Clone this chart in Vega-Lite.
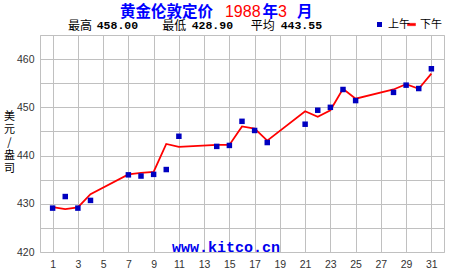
{
  "$schema": "https://vega.github.io/schema/vega-lite/v6.json",
  "width": 404,
  "height": 217,
  "autosize": {"type": "none"},
  "padding": {"left": 40, "top": 35, "right": 6, "bottom": 23},
  "background": "white",
  "config": {
    "view": {"stroke": "#c0c0c0", "strokeWidth": 1},
    "axis": {
      "domain": false,
      "ticks": false,
      "grid": true,
      "gridColor": "#c0c0c0",
      "gridWidth": 1,
      "gridOpacity": 1,
      "labelFont": "Liberation Sans",
      "labelFontSize": 10.5,
      "labelColor": "#333333",
      "labelOverlap": false
    },
    "legend": {
      "orient": "none",
      "direction": "horizontal",
      "title": null,
      "padding": 0,
      "labelFont": "Noto Sans CJK SC",
      "labelFontSize": 11,
      "labelColor": "#000000",
      "labelOffset": 3
    },
    "text": {"font": "Noto Sans CJK SC"}
  },
  "resolve": {"scale": {"fill": "independent", "stroke": "independent"}, "legend": {"fill": "independent", "stroke": "independent"}},
  "datasets": {
    "prices": [
      {"day": 1, "session": "上午", "price": 429.1},
      {"day": 2, "session": "上午", "price": 431.5},
      {"day": 3, "session": "上午", "price": 429.1},
      {"day": 4, "session": "上午", "price": 430.7},
      {"day": 7, "session": "上午", "price": 436.0},
      {"day": 8, "session": "上午", "price": 435.75},
      {"day": 9, "session": "上午", "price": 436.1},
      {"day": 10, "session": "上午", "price": 437.1},
      {"day": 11, "session": "上午", "price": 444.0},
      {"day": 14, "session": "上午", "price": 441.9},
      {"day": 15, "session": "上午", "price": 442.1},
      {"day": 16, "session": "上午", "price": 447.1},
      {"day": 17, "session": "上午", "price": 445.2},
      {"day": 18, "session": "上午", "price": 442.7},
      {"day": 21, "session": "上午", "price": 446.5},
      {"day": 22, "session": "上午", "price": 449.4},
      {"day": 23, "session": "上午", "price": 450.0},
      {"day": 24, "session": "上午", "price": 453.7},
      {"day": 25, "session": "上午", "price": 451.4},
      {"day": 28, "session": "上午", "price": 453.1},
      {"day": 29, "session": "上午", "price": 454.6},
      {"day": 30, "session": "上午", "price": 453.9},
      {"day": 31, "session": "上午", "price": 458.0},
      {"day": 1, "session": "下午", "price": 429.3},
      {"day": 2, "session": "下午", "price": 428.9},
      {"day": 3, "session": "下午", "price": 429.25},
      {"day": 4, "session": "下午", "price": 432.0},
      {"day": 7, "session": "下午", "price": 436.1},
      {"day": 8, "session": "下午", "price": 436.4},
      {"day": 9, "session": "下午", "price": 436.6},
      {"day": 10, "session": "下午", "price": 442.4},
      {"day": 11, "session": "下午", "price": 441.8},
      {"day": 14, "session": "下午", "price": 442.2},
      {"day": 15, "session": "下午", "price": 442.2},
      {"day": 16, "session": "下午", "price": 446.05},
      {"day": 17, "session": "下午", "price": 445.6},
      {"day": 18, "session": "下午", "price": 443.1},
      {"day": 21, "session": "下午", "price": 449.2},
      {"day": 22, "session": "下午", "price": 448.05},
      {"day": 23, "session": "下午", "price": 449.4},
      {"day": 24, "session": "下午", "price": 453.85},
      {"day": 25, "session": "下午", "price": 451.8},
      {"day": 28, "session": "下午", "price": 453.7},
      {"day": 29, "session": "下午", "price": 454.8},
      {"day": 30, "session": "下午", "price": 453.85},
      {"day": 31, "session": "下午", "price": 457.0}
    ]
  },
  "layer": [
    {
      "data": {"name": "prices"},
      "transform": [{"filter": "datum.session === '下午'"}],
      "mark": {"type": "line", "strokeWidth": 1.8},
      "encoding": {
        "x": {
          "field": "day", "type": "quantitative",
          "scale": {"domain": [0, 32], "nice": false, "zero": false},
          "axis": {"values": [1, 3, 5, 7, 9, 11, 13, 15, 17, 19, 21, 23, 25, 27, 29, 31], "tickCount": 40, "title": null, "labelPadding": 7, "labelOverlap": false, "labelFlush": false}
        },
        "y": {
          "field": "price", "type": "quantitative",
          "scale": {"domain": [420, 465], "nice": false, "zero": false},
          "axis": {
            "values": [420, 425, 430, 435, 440, 445, 450, 455, 460, 465],
            "tickCount": 20,
            "labelExpr": "datum.value % 10 === 0 ? datum.label : ''",
            "labelPadding": 6,
            "labelOverlap": false,
            "title": ["美", "元", "/", "盎", "司"],
            "titleAngle": 0,
            "titleX": -31,
            "titleY": 75,
            "titleAlign": "center",
            "titleBaseline": "top",
            "titleFont": "Noto Sans CJK SC",
            "titleFontSize": 11,
            "titleFontWeight": "normal",
            "titleColor": "#000000",
            "titleLineHeight": 13
          }
        },
        "stroke": {
          "field": "session", "type": "nominal",
          "scale": {"domain": ["下午"], "range": ["#ff0000"]},
          "legend": {"legendX": 366, "legendY": -16, "symbolType": "M-1,-0.3H1V0.3H-1Z", "symbolSize": 64, "symbolFillColor": "#ff0000", "symbolStrokeColor": "#ff0000", "symbolStrokeWidth": 0.5, "symbolOpacity": 1}
        }
      }
    },
    {
      "data": {"name": "prices"},
      "transform": [{"filter": "datum.session === '上午'"}],
      "mark": {"type": "square", "size": 30, "filled": true, "opacity": 1},
      "encoding": {
        "x": {"field": "day", "type": "quantitative"},
        "y": {"field": "price", "type": "quantitative"},
        "fill": {
          "field": "session", "type": "nominal",
          "scale": {"domain": ["上午"], "range": ["#0000c0"]},
          "legend": {"legendX": 334, "legendY": -16, "symbolType": "square", "symbolSize": 25}
        }
      }
    },
    {
      "data": {"values": [{}]},
      "mark": {"type": "text", "text": "黄金伦敦定价", "align": "left", "baseline": "middle", "fontSize": 15.5, "fontWeight": "bold", "color": "#0000ff"},
      "encoding": {"x": {"datum": 6.34, "type": "quantitative"}, "y": {"datum": 469.8, "type": "quantitative"}}
    },
    {
      "data": {"values": [{}]},
      "mark": {"type": "text", "text": "1988", "align": "left", "baseline": "middle", "font": "Liberation Sans", "fontSize": 16, "color": "#ff0000"},
      "encoding": {"x": {"datum": 14.65, "type": "quantitative"}, "y": {"datum": 469.8, "type": "quantitative"}}
    },
    {
      "data": {"values": [{}]},
      "mark": {"type": "text", "text": "年", "align": "left", "baseline": "middle", "fontSize": 15.5, "fontWeight": "bold", "color": "#0000ff"},
      "encoding": {"x": {"datum": 17.62, "type": "quantitative"}, "y": {"datum": 469.8, "type": "quantitative"}}
    },
    {
      "data": {"values": [{}]},
      "mark": {"type": "text", "text": "3", "align": "left", "baseline": "middle", "font": "Liberation Sans", "fontSize": 16, "color": "#ff0000"},
      "encoding": {"x": {"datum": 18.85, "type": "quantitative"}, "y": {"datum": 469.8, "type": "quantitative"}}
    },
    {
      "data": {"values": [{}]},
      "mark": {"type": "text", "text": "月", "align": "left", "baseline": "middle", "fontSize": 15.5, "fontWeight": "bold", "color": "#0000ff"},
      "encoding": {"x": {"datum": 20.36, "type": "quantitative"}, "y": {"datum": 469.8, "type": "quantitative"}}
    },
    {
      "data": {"values": [{}]},
      "mark": {"type": "text", "text": "最高", "align": "left", "baseline": "middle", "fontSize": 12, "color": "#000000"},
      "encoding": {"x": {"datum": 2.22, "type": "quantitative"}, "y": {"datum": 466.8, "type": "quantitative"}}
    },
    {
      "data": {"values": [{}]},
      "mark": {"type": "text", "text": "458.00", "align": "left", "baseline": "middle", "font": "Liberation Mono", "fontSize": 11.5, "fontWeight": "bold", "color": "#000000"},
      "encoding": {"x": {"datum": 4.49, "type": "quantitative"}, "y": {"datum": 466.8, "type": "quantitative"}}
    },
    {
      "data": {"values": [{}]},
      "mark": {"type": "text", "text": "最低", "align": "left", "baseline": "middle", "fontSize": 12, "color": "#000000"},
      "encoding": {"x": {"datum": 9.69, "type": "quantitative"}, "y": {"datum": 466.8, "type": "quantitative"}}
    },
    {
      "data": {"values": [{}]},
      "mark": {"type": "text", "text": "428.90", "align": "left", "baseline": "middle", "font": "Liberation Mono", "fontSize": 11.5, "fontWeight": "bold", "color": "#000000"},
      "encoding": {"x": {"datum": 12.01, "type": "quantitative"}, "y": {"datum": 466.8, "type": "quantitative"}}
    },
    {
      "data": {"values": [{}]},
      "mark": {"type": "text", "text": "平均", "align": "left", "baseline": "middle", "fontSize": 12, "color": "#000000"},
      "encoding": {"x": {"datum": 16.69, "type": "quantitative"}, "y": {"datum": 466.8, "type": "quantitative"}}
    },
    {
      "data": {"values": [{}]},
      "mark": {"type": "text", "text": "443.55", "align": "left", "baseline": "middle", "font": "Liberation Mono", "fontSize": 11.5, "fontWeight": "bold", "color": "#000000"},
      "encoding": {"x": {"datum": 19.06, "type": "quantitative"}, "y": {"datum": 466.8, "type": "quantitative"}}
    },
    {
      "data": {"values": [{}]},
      "mark": {"type": "text", "text": "www.kitco.cn", "align": "center", "baseline": "middle", "font": "Liberation Mono", "fontSize": 15, "fontWeight": "bold", "color": "#0000ee"},
      "encoding": {"x": {"datum": 14.73, "type": "quantitative"}, "y": {"datum": 421.1, "type": "quantitative"}}
    }
  ]
}
